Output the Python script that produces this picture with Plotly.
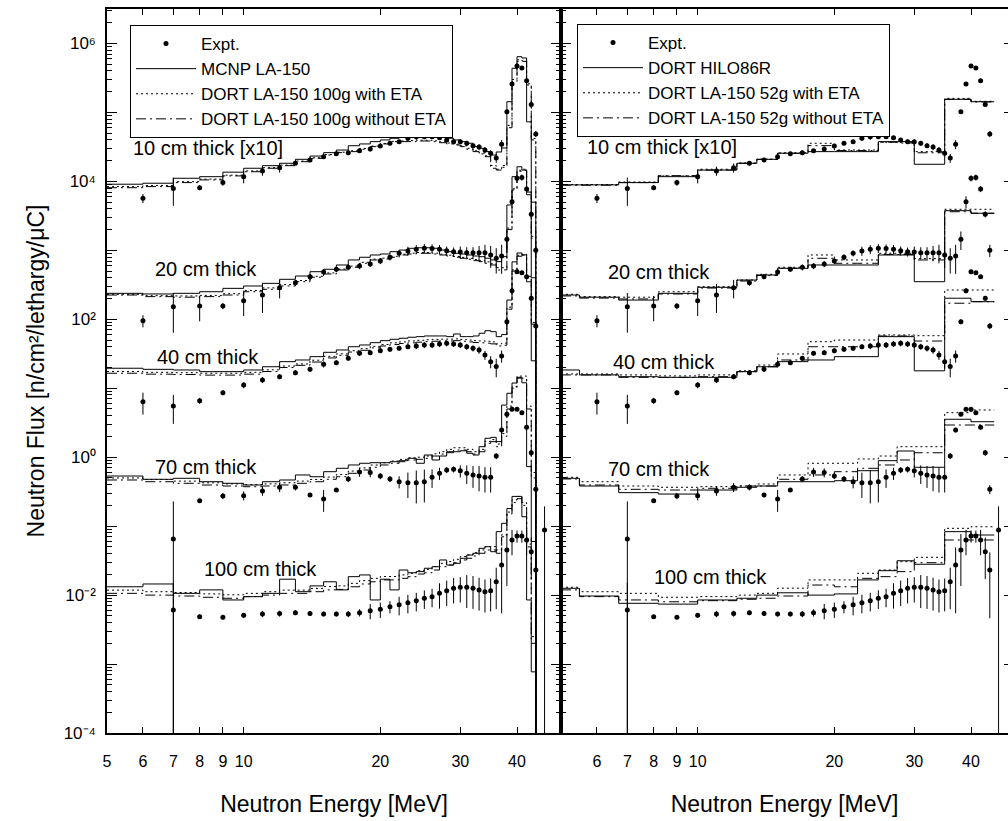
import plotly.graph_objects as go

# ---------------- experimental data (10 cm values plotted x10) ----------------
EXPT_E_10 = [6, 7, 8, 9, 10, 11, 12, 13, 14, 15, 16, 17, 18, 19, 20, 21, 22, 23, 24, 25,
             26, 27, 28, 29, 30, 31, 32, 33, 34, 35, 36, 37, 38, 39, 40, 41, 42, 43, 44]
EXPT_F_10 = [5.7e3, 7.9e3, 8.1e3, 9.6e3, 1.17e4, 1.42e4, 1.58e4, 1.83e4, 2.04e4, 2.28e4,
             2.52e4, 2.61e4, 2.79e4, 2.95e4, 3.26e4, 3.57e4, 3.77e4, 4.22e4, 4.45e4, 4.45e4,
             4.45e4, 4.3e4, 3.98e4, 3.77e4, 3.77e4, 3.57e4, 3.3e4, 3.15e4, 2.85e4, 2.56e4,
             2.18e4, 3.45e4, 1.02e5, 2.59e5, 4.72e5, 4.41e5, 2.89e5, 1.3e5, 4.87e4]
EXPT_R_10 = [0.15, 0.44, 0.08, 0.1, 0.2, 0.15, 0.15, 0.06, 0.06, 0.06, 0.06, 0.08, 0.06,
             0.08, 0.06, 0.06, 0.06, 0.08, 0.1, 0.08, 0.06, 0.06, 0.06, 0.08, 0.08, 0.08,
             0.08, 0.1, 0.1, 0.1, 0.15, 0.15, 0.06, 0.06, 0.05, 0.05, 0.05, 0.06, 0.1]

EXPT_E_20 = EXPT_E_10
EXPT_F_20 = [95.5, 152, 156, 156, 186, 225, 287, 340, 415, 485, 531, 568, 593, 634, 701,
             793, 906, 979, 1035, 1072, 1060, 1035, 989, 955, 946, 925, 925, 925, 925, 856,
             767, 830, 1445, 5080, 1.11e4, 1.14e4, 7760, 3330, 1000]
EXPT_R_20 = [0.2, 0.58, 0.4, 0.1, 0.4, 0.45, 0.3, 0.1, 0.08, 0.08, 0.08, 0.1, 0.1, 0.1,
             0.1, 0.1, 0.1, 0.15, 0.15, 0.15, 0.15, 0.15, 0.15, 0.15, 0.2, 0.2, 0.2, 0.25,
             0.3, 0.35, 0.4, 0.45, 0.3, 0.2, 0.1, 0.1, 0.1, 0.1, 0.2]

EXPT_E_40 = EXPT_E_10
EXPT_F_40 = [6.38, 5.53, 6.59, 8.61, 11.1, 13.2, 14.7, 16.8, 18.8, 22.2, 23.5, 27.2, 32.1,
             32.8, 35.1, 36.7, 37.9, 40.1, 41.0, 42.4, 42.4, 43.9, 44.9, 43.9, 42.4, 40.1,
             37.9, 35.9, 30.3, 24.3, 20.6, 29.4, 92.3, 260, 490, 474, 415, 202, 80]
EXPT_R_40 = [0.35, 0.45, 0.1, 0.08, 0.1, 0.1, 0.08, 0.08, 0.08, 0.1, 0.08, 0.08, 0.08,
             0.08, 0.08, 0.08, 0.08, 0.08, 0.1, 0.1, 0.1, 0.1, 0.1, 0.1, 0.1, 0.1, 0.1,
             0.12, 0.15, 0.2, 0.3, 0.2, 0.08, 0.08, 0.06, 0.06, 0.06, 0.08, 0.1]

EXPT_E_70 = [7, 8, 9, 10, 11, 12, 13, 14, 15, 16, 17, 18, 19, 20, 21, 22, 23, 24, 25, 26,
             27, 28, 29, 30, 31, 32, 33, 34, 35, 36, 37, 38, 39, 40, 41, 42, 43, 44]
EXPT_F_70 = [0.0652, 0.234, 0.274, 0.277, 0.324, 0.366, 0.366, 0.283, 0.248, 0.334, 0.483,
             0.610, 0.60, 0.533, 0.483, 0.441, 0.427, 0.427, 0.441, 0.512, 0.585, 0.652,
             0.666, 0.635, 0.585, 0.552, 0.533, 0.512, 0.512, 1.04, 2.48, 4.19, 4.95, 4.95,
             4.42, 2.72, 1.16, 0.342]
EXPT_R_70 = [2.5, 0.05, 0.1, 0.15, 0.15, 0.15, 0.1, 0.05, 0.35, 0.05, 0.1, 0.15, 0.15, 0.1,
             0.1, 0.2, 0.4, 0.5, 0.5, 0.3, 0.2, 0.1, 0.1, 0.2, 0.3, 0.35, 0.4, 0.4, 0.4,
             0.1, 0.08, 0.06, 0.06, 0.06, 0.06, 0.08, 0.1, 0.15]

EXPT_E_100 = [7, 8, 9, 10, 11, 12, 13, 14, 15, 16, 17, 18, 19, 20, 21, 22, 23, 24, 25, 26,
              27, 28, 29, 30, 31, 32, 33, 34, 35, 36, 37, 38, 39, 40, 41, 42, 43, 44, 46]
EXPT_F_100 = [0.00608, 0.00486, 0.00478, 0.00509, 0.00532, 0.0054, 0.00556, 0.0054,
              0.00532, 0.00532, 0.00532, 0.00556, 0.00594, 0.00622, 0.00679, 0.00726,
              0.00776, 0.0083, 0.0090, 0.0095, 0.0106, 0.0116, 0.0126, 0.0130, 0.0130,
              0.0126, 0.0119, 0.0112, 0.0116, 0.0156, 0.0273, 0.0451, 0.0630, 0.0720,
              0.0720, 0.0630, 0.0426, 0.0231, 0.088]
EXPT_R_100 = [1.5, 0.07, 0.07, 0.08, 0.1, 0.1, 0.08, 0.08, 0.08, 0.08, 0.1, 0.12, 0.25,
              0.25, 0.2, 0.3, 0.3, 0.3, 0.3, 0.3, 0.4, 0.4, 0.4, 0.4, 0.5, 0.5, 0.5, 0.5,
              0.5, 0.6, 0.8, 0.7, 0.4, 0.2, 0.2, 0.4, 0.6, 0.8, 1.2]

# ---------------- left panel: 1 MeV group histograms ----------------
LEFT_EDGES = [5, 6, 7, 8, 9, 10, 11, 12, 13, 14, 15, 16, 17, 18, 19, 20, 21, 22, 23, 24, 25,
              26, 27, 28, 29, 30, 31, 32, 33, 34, 35, 36, 37, 38, 39, 40, 41, 42, 43, 44, 45, 46]

MCNP_10 = [9.1e3, 9.4e3, 1.11e4, 1.17e4, 1.36e4, 1.55e4, 1.69e4, 1.83e4, 2.09e4, 2.33e4,
           2.61e4, 2.85e4, 3.29e4, 3.49e4, 3.77e4, 3.99e4, 4.22e4, 4.45e4, 4.56e4, 4.71e4,
           4.71e4, 4.56e4, 4.45e4, 4.22e4, 3.99e4, 3.77e4, 3.57e4, 3.19e4, 3.02e4, 2.7e4,
           2.41e4, 2.67e4, 3.05e4, 1.43e5, 4.37e5, 6.43e5, 6.16e5, 7.3e4, 5e3, 1e-7, 1e-7]
ETA100_10 = [8.4e3, 8.7e3, 9.9e3, 1.08e4, 1.23e4, 1.42e4, 1.58e4, 1.72e4, 1.97e4, 2.2e4,
             2.45e4, 2.65e4, 2.78e4, 3.0e4, 3.25e4, 3.55e4, 3.8e4, 3.85e4, 3.9e4, 3.95e4,
             3.95e4, 3.88e4, 3.75e4, 3.6e4, 3.45e4, 3.28e4, 3.02e4, 2.78e4, 2.58e4, 2.35e4,
             1.7e4, 1.5e4, 1.7e4, 6.5e4, 3.0e5, 5.8e5, 5.6e5, 2.6e5, 4.2e4, 1e-7, 1e-7]
NOETA100_10 = [8.1e3, 8.4e3, 9.6e3, 1.05e4, 1.2e4, 1.38e4, 1.55e4, 1.69e4, 1.93e4, 2.16e4,
               2.41e4, 2.61e4, 2.7e4, 2.92e4, 3.19e4, 3.49e4, 3.77e4, 3.77e4, 3.77e4, 3.85e4,
               3.85e4, 3.77e4, 3.64e4, 3.49e4, 3.37e4, 3.19e4, 2.92e4, 2.7e4, 2.5e4, 2.28e4,
               1.55e4, 1.46e4, 1.6e4, 6e4, 2.8e5, 5.5e5, 5.5e5, 2.5e5, 4e4, 1e-7, 1e-7]

MCNP_20 = [238, 233, 238, 251, 281, 304, 332, 380, 424, 490, 531, 613, 725, 793, 856, 885,
           956, 1010, 1070, 1090, 1090, 1070, 1010, 956, 906, 885, 856, 828, 809, 767, 725,
           685, 809, 4.55e3, 1.17e4, 1.63e4, 1.46e4, 6.4e3, 4e2, 1e-7, 1e-7]
ETA100_20 = [230, 220, 218, 222, 235, 262, 285, 318, 365, 420, 470, 535, 590, 670, 745, 770,
             820, 880, 910, 930, 930, 910, 880, 850, 815, 790, 765, 735, 710, 680, 640, 560,
             560, 2.1e3, 7.8e3, 1.45e4, 1.5e4, 7.3e3, 1.6e3, 1e-7, 1e-7]
NOETA100_20 = [225, 213, 209, 213, 225, 251, 272, 304, 351, 407, 454, 519, 568, 649, 725,
               749, 793, 856, 885, 906, 906, 885, 856, 828, 793, 767, 742, 708, 685, 649,
               613, 519, 520, 2e3, 7.5e3, 1.4e4, 1.45e4, 7e3, 1.5e3, 1e-7, 1e-7]

MCNP_40 = [19.5, 18.8, 18.4, 17.4, 17.4, 18.4, 20.5, 24.3, 25.7, 28.7, 33.2, 35.9, 40.0,
           42.4, 45.8, 49.0, 51.3, 53.1, 54.9, 56.0, 57.3, 57.3, 57.3, 56.0, 61.2, 56.0,
           56.0, 57.3, 62.7, 68.3, 66.1, 56.0, 60, 190, 680, 915, 860, 350, 25, 1e-7, 1e-7]
ETA100_40 = [17.5, 17.0, 16.8, 16.5, 16.5, 17.0, 18.5, 21.0, 22.5, 25.5, 29.0, 31.5, 35.0,
             37.5, 40.5, 43.0, 45.5, 47.0, 48.5, 49.5, 50.5, 51.0, 51.5, 51.5, 52.0, 51.0,
             50.0, 49.0, 48.5, 48.0, 47.0, 44.0, 45, 150, 520, 850, 880, 420, 90, 1e-7, 1e-7]
NOETA100_40 = [16.5, 16.0, 15.8, 15.5, 15.5, 16.0, 17.5, 20.0, 21.5, 24.0, 27.5, 30.0, 33.5,
               35.5, 38.5, 41.0, 43.0, 44.5, 45.5, 46.5, 47.5, 48.0, 48.5, 48.5, 49.0, 48.0,
               47.0, 46.0, 45.5, 45.0, 44.0, 41.0, 42, 140, 500, 820, 850, 400, 85, 1e-7, 1e-7]

MCNP_70 = [0.533, 0.478, 0.494, 0.441, 0.418, 0.395, 0.441, 0.467, 0.552, 0.521, 0.616,
           0.690, 0.771, 0.816, 0.832, 0.832, 0.860, 0.890, 0.964, 0.816, 1.076, 0.911,
           1.04, 1.162, 1.2, 1.24, 1.14, 1.076, 1.42, 1.88, 1.94, 1.68, 5.7, 8.45, 11.9,
           14.4, 12.0, 0.73, 0.06, 1e-7, 1e-7]
ETA100_70 = [0.50, 0.475, 0.45, 0.425, 0.41, 0.40, 0.41, 0.425, 0.45, 0.475, 0.515, 0.56,
             0.63, 0.70, 0.77, 0.83, 0.88, 0.93, 0.98, 1.0, 1.04, 1.12, 1.2, 1.3, 1.37, 1.37,
             1.3, 1.2, 1.3, 1.7, 1.8, 1.55, 2.2, 5.5, 10.5, 15, 15, 5.5, 0.6, 1e-7, 1e-7]
NOETA100_70 = [0.467, 0.441, 0.418, 0.395, 0.382, 0.373, 0.382, 0.395, 0.418, 0.441, 0.478,
               0.521, 0.584, 0.652, 0.714, 0.771, 0.816, 0.860, 0.911, 0.932, 0.964, 1.04,
               1.11, 1.2, 1.27, 1.27, 1.2, 1.11, 1.2, 1.59, 1.68, 1.42, 2.0, 5.0, 10, 14, 14,
               5, 0.5, 1e-7, 1e-7]

MCNP_100 = [0.0132, 0.0145, 0.0106, 0.0119, 0.0085, 0.0095, 0.0106, 0.0170, 0.0112, 0.0136,
            0.0156, 0.0119, 0.0185, 0.0196, 0.0085, 0.0170, 0.0119, 0.0231, 0.0211, 0.0219,
            0.0245, 0.0258, 0.0323, 0.0273, 0.0289, 0.0342, 0.0381, 0.0404, 0.0477, 0.0503,
            0.0426, 0.0832, 0.110, 0.18, 0.27, 0.27, 0.137, 0.0085, 0.00077, 1e-7, 1e-7]
ETA100_100 = [0.0118, 0.0112, 0.0109, 0.0104, 0.0101, 0.0106, 0.0112, 0.0118, 0.0118,
              0.0125, 0.0133, 0.0136, 0.0148, 0.0162, 0.0175, 0.0186, 0.0186, 0.0196, 0.0207,
              0.0226, 0.0236, 0.0259, 0.0289, 0.0306, 0.033, 0.0362, 0.0383, 0.0413, 0.0452,
              0.0505, 0.0505, 0.0452, 0.075, 0.16, 0.24, 0.27, 0.22, 0.055, 0.0025, 1e-7, 1e-7]
NOETA100_100 = [0.0106, 0.0100, 0.0097, 0.0093, 0.0090, 0.0095, 0.0100, 0.0106, 0.0106,
                0.0112, 0.0119, 0.0121, 0.0132, 0.0145, 0.0156, 0.0166, 0.0166, 0.0175,
                0.0185, 0.0202, 0.0211, 0.0231, 0.0258, 0.0273, 0.0295, 0.0323, 0.0342,
                0.0369, 0.0404, 0.0451, 0.0451, 0.0404, 0.07, 0.15, 0.22, 0.25, 0.2, 0.05,
                0.002, 1e-7, 1e-7]

# ---------------- right panel: coarse group histograms ----------------
RIGHT_EDGES = [5, 5.49, 6.7, 8.19, 10, 12.2, 13.5, 15, 17.5, 20, 22.5, 25, 27.5, 30, 35, 40, 45]

HILO_10 = [8.9e3, 8.9e3, 9.6e3, 1.17e4, 1.46e4, 1.83e4, 2.09e4, 2.56e4, 2.7e4, 2.7e4, 2.7e4,
           3.77e4, 3.77e4, 1.77e4, 1.55e5, 1.43e5]
ETA52_10 = [9.0e3, 9.0e3, 9.8e3, 1.2e4, 1.5e4, 1.85e4, 2.1e4, 2.6e4, 3.57e4, 2.85e4, 2.85e4,
            3.7e4, 3.7e4, 2.7e4, 1.6e5, 1.45e5]
NOETA52_10 = [8.8e3, 8.8e3, 9.6e3, 1.21e4, 1.46e4, 1.83e4, 2.08e4, 2.55e4, 3.3e4, 2.8e4,
              2.8e4, 3.7e4, 3.6e4, 2.6e4, 1.55e5, 1.42e5]

HILO_20 = [225, 209, 190, 238, 291, 371, 439, 549, 613, 613, 613, 856, 856, 351, 3.76e3, 3.45e3]
ETA52_20 = [230, 213, 209, 251, 297, 371, 449, 568, 856, 725, 725, 906, 906, 757, 3.94e3, 3.94e3]
NOETA52_20 = [218, 203, 197, 233, 284, 359, 432, 549, 767, 649, 649, 871, 871, 725, 3.63e3, 3.45e3]

HILO_40 = [18.4, 15.6, 14.7, 14.4, 14.4, 17.4, 20.5, 24.3, 25.7, 28.7, 28.7, 56.0, 56.0,
           17.9, 202, 180]
ETA52_40 = [16.1, 16.1, 15.6, 15.1, 15.6, 17.9, 21.7, 31.4, 47.3, 50.0, 50.0, 59.2, 59.2,
            57.8, 266, 266]
NOETA52_40 = [15.6, 15.6, 14.4, 14.4, 14.7, 17.4, 20.5, 25.7, 40.0, 40.0, 40.0, 57.3, 57.3,
              48.4, 171, 180]

HILO_70 = [0.494, 0.382, 0.306, 0.292, 0.334, 0.366, 0.382, 0.441, 0.441, 0.456, 0.637,
           0.890, 1.23, 0.714, 3.55, 3.27]
ETA52_70 = [0.511, 0.441, 0.382, 0.366, 0.374, 0.382, 0.409, 0.552, 0.816, 0.816, 0.942,
            1.04, 1.42, 1.42, 4.42, 4.84]
NOETA52_70 = [0.483, 0.395, 0.342, 0.334, 0.354, 0.382, 0.382, 0.478, 0.552, 0.616, 0.690,
              0.771, 0.911, 1.16, 2.93, 2.93]

HILO_100 = [0.01255, 0.0097, 0.0076, 0.0074, 0.0085, 0.0090, 0.0100, 0.0108, 0.0100, 0.0104,
            0.0166, 0.0226, 0.0315, 0.0280, 0.0832, 0.0744]
ETA52_100 = [0.0130, 0.0112, 0.0106, 0.0093, 0.0095, 0.0100, 0.0106, 0.0126, 0.0166, 0.0166,
             0.0207, 0.0231, 0.0305, 0.0353, 0.093, 0.098]
NOETA52_100 = [0.0119, 0.0095, 0.0085, 0.0080, 0.0083, 0.0087, 0.0090, 0.0097, 0.0140,
               0.0132, 0.0175, 0.0185, 0.0219, 0.0295, 0.063, 0.063]

THICK_LABELS = ["10 cm thick [x10]", "20 cm thick", "40 cm thick", "70 cm thick", "100 cm thick"]
X_TICKS_LEFT = [5, 6, 7, 8, 9, 10, 20, 30, 40]
X_TICKS_RIGHT = [6, 7, 8, 9, 10, 20, 30, 40]
Y_LABELLED = [1e-4, 1e-2, 1, 1e2, 1e4, 1e6]
Y_LABEL_TEXT = ["10\u207b\u2074", "10\u207b\u00b2", "10\u2070", "10\u00b2", "10\u2074", "10\u2076"]
Y_ODD = [1e-3, 1e-1, 10, 1e3, 1e5]
Y_ALL = [1e-4, 1e-3, 1e-2, 1e-1, 1, 10, 1e2, 1e3, 1e4, 1e5, 1e6]

# ---------------- styling ----------------
FONT = "Liberation Sans, Arial, Helvetica, sans-serif"
DOT = "2px,3px"
DASHDOT = "10px,4px,2px,4px"

fig = go.Figure()

expt_sets = [(EXPT_E_10, EXPT_F_10, EXPT_R_10), (EXPT_E_20, EXPT_F_20, EXPT_R_20),
             (EXPT_E_40, EXPT_F_40, EXPT_R_40), (EXPT_E_70, EXPT_F_70, EXPT_R_70),
             (EXPT_E_100, EXPT_F_100, EXPT_R_100)]
left_sets = [(MCNP_10, ETA100_10, NOETA100_10), (MCNP_20, ETA100_20, NOETA100_20),
             (MCNP_40, ETA100_40, NOETA100_40), (MCNP_70, ETA100_70, NOETA100_70),
             (MCNP_100, ETA100_100, NOETA100_100)]
right_sets = [(HILO_10, ETA52_10, NOETA52_10), (HILO_20, ETA52_20, NOETA52_20),
              (HILO_40, ETA52_40, NOETA52_40), (HILO_70, ETA52_70, NOETA52_70),
              (HILO_100, ETA52_100, NOETA52_100)]

panels = [
    ("x", "y", "legend", LEFT_EDGES, left_sets,
     ["MCNP LA-150", "DORT LA-150 100g with ETA", "DORT LA-150 100g without ETA"]),
    ("x2", "y2", "legend2", RIGHT_EDGES, right_sets,
     ["DORT HILO86R", "DORT LA-150 52g with ETA", "DORT LA-150 52g without ETA"]),
]

for xa, ya, lg, edges, sets, names in panels:
    for i, (e, f, r) in enumerate(expt_sets):
        err = [fv * rv for fv, rv in zip(f, r)]
        fig.add_trace(go.Scatter(
            x=e, y=f, mode="markers", xaxis=xa, yaxis=ya,
            marker=dict(color="black", size=5),
            error_y=dict(type="data", array=err, arrayminus=err, symmetric=False,
                         color="black", thickness=1, width=0),
            name="Expt.", legend=lg, legendgroup=lg + "e", showlegend=(i == 0)))
    for j, dash in enumerate(["solid", DOT, DASHDOT]):
        for i, s in enumerate(sets):
            vals = s[j]
            fig.add_trace(go.Scatter(
                x=edges, y=list(vals) + [vals[-1]], mode="lines", xaxis=xa, yaxis=ya,
                line=dict(shape="hv", color="black", width=1, dash=dash),
                name=names[j], legend=lg, legendgroup=lg + str(j), showlegend=(i == 0)))

Y_MINOR = [k * 10.0 ** n for n in range(-4, 7) for k in range(2, 10) if k * 10.0 ** n < 3.1e6]

W, H = 1008, 821
L_PX, MID_PX = 107, 561
T_PX, B_PX = 9, 733
YR = [-4, 6.5]

axis_common = dict(showline=True, linecolor="black", linewidth=1.5, ticks="inside",
                   tickcolor="black", showgrid=False, zeroline=False, automargin=False,
                   tickfont=dict(family=FONT, size=16, color="black"))

xcommon = dict(axis_common, type="log", ticklen=6, tickwidth=1, mirror="ticks",
               ticklabelstandoff=13,
               title=dict(text="Neutron Energy [MeV]", font=dict(family=FONT, size=23, color="black"),
                          standoff=27))

fig.update_layout(
    width=W, height=H, template="none",
    paper_bgcolor="white", plot_bgcolor="white",
    margin=dict(l=0, r=0, t=T_PX, b=H - B_PX, pad=0),
    xaxis=dict(xcommon, domain=[L_PX / W, MID_PX / W], range=[0.69897, 1.69897],
               tickvals=X_TICKS_LEFT, ticktext=[str(v) for v in X_TICKS_LEFT], anchor="y"),
    xaxis2=dict(xcommon, domain=[MID_PX / W, 1.0], range=[0.69897, 1.68355],
                tickvals=X_TICKS_RIGHT, ticktext=[str(v) for v in X_TICKS_RIGHT], anchor="y2"),
    yaxis=dict(axis_common, type="log", range=YR, domain=[0, 1], anchor="x",
               tickvals=Y_LABELLED, ticktext=Y_LABEL_TEXT, ticklen=10, tickwidth=1,
               mirror="ticks", ticklabelstandoff=6,
               tickfont=dict(family=FONT, size=17, color="black"),
               minor=dict(tickvals=Y_MINOR, ticks="inside", ticklen=5, tickcolor="black"),
               title=dict(text="Neutron Flux [n/cm\u00b2/lethargy/\u03bcC]",
                          font=dict(family=FONT, size=23, color="black"), standoff=13)),
    # unlabelled odd-decade ticks of the left panel
    yaxis4=dict(type="log", range=YR, overlaying="y", anchor="x", side="left",
                showline=True, linecolor="black", linewidth=1.5, mirror="ticks",
                ticks="inside", ticklen=10, tickcolor="black", tickvals=Y_ODD,
                showticklabels=False, showgrid=False, zeroline=False, automargin=False),
    yaxis2=dict(axis_common, type="log", range=YR, domain=[0, 1], anchor="x2",
                tickvals=Y_ALL, showticklabels=False, ticklen=10, tickwidth=1, mirror=False,
                minor=dict(tickvals=Y_MINOR, ticks="inside", ticklen=5, tickcolor="black")),
    yaxis3=dict(type="log", range=YR, overlaying="y2", anchor="x2", side="right",
                showline=False, ticks="inside", ticklen=4, tickcolor="black",
                tickvals=Y_ALL, showticklabels=False, showgrid=False, zeroline=False,
                automargin=False),
    legend=dict(x=130 / W, y=(B_PX - 25) / (B_PX - T_PX), xanchor="left", yanchor="top",
                bgcolor="white", bordercolor="black", borderwidth=1, itemwidth=60,
                font=dict(family=FONT, size=17, color="black"), tracegroupgap=0),
    legend2=dict(x=577 / W, y=(B_PX - 24) / (B_PX - T_PX), xanchor="left", yanchor="top",
                 bgcolor="white", bordercolor="black", borderwidth=1, itemwidth=60,
                 font=dict(family=FONT, size=17, color="black"), tracegroupgap=0),
    showlegend=True,
)

# empty traces that activate the tick-only overlay axes
fig.add_trace(go.Scatter(x=[], y=[], xaxis="x2", yaxis="y3", showlegend=False))
fig.add_trace(go.Scatter(x=[], y=[], xaxis="x", yaxis="y4", showlegend=False))

label_pos_left = [(131, 148), (153, 269), (155, 357), (153, 467), (202, 569)]
label_pos_right = [(585, 147), (606, 272), (611, 362), (606, 469), (652, 577)]
for pos_list in (label_pos_left, label_pos_right):
    for (px, py), txt in zip(pos_list, THICK_LABELS):
        fig.add_annotation(x=px / W, y=(B_PX - py) / (B_PX - T_PX), xref="paper", yref="paper",
                           text=txt, showarrow=False, xanchor="left", yanchor="middle",
                           font=dict(family=FONT, size=20, color="black"))

fig.write_html("out.html")
